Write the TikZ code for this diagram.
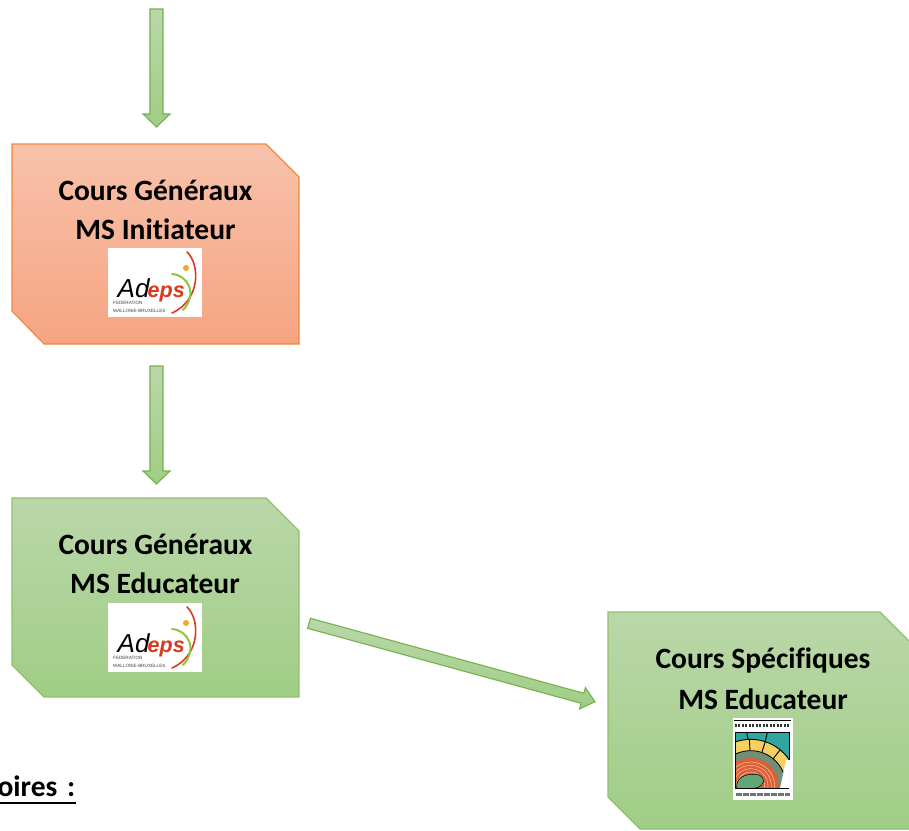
\documentclass[tikz,border=0pt]{standalone}
\usepackage{fontspec}
\setmainfont{Carlito}[Ligatures=NoCommon]
\newfontfamily\logofont{Liberation Sans}
\usetikzlibrary{calc}
\definecolor{grnTop}{HTML}{BAD7A9}
\definecolor{grnBot}{HTML}{A0CD85}
\definecolor{grnLine}{HTML}{8DC16C}
\definecolor{orgTop}{HTML}{F8C2AB}
\definecolor{orgBot}{HTML}{F6A481}
\definecolor{orgLine}{HTML}{F0873C}
\definecolor{arrLine}{HTML}{74B24C}
\definecolor{lgTeal}{HTML}{2FA6A0}
\definecolor{lgYellow}{HTML}{F5CF5F}
\definecolor{lgGrey}{HTML}{6F8F78}
\definecolor{lgOrange}{HTML}{DE5F33}
\definecolor{lgGreen}{HTML}{5FA777}
\definecolor{lgRed}{HTML}{D93A1E}
\definecolor{lgArc}{HTML}{8DC63F}
\definecolor{lgDot}{HTML}{F5A623}
\tikzset{
  greenbox/.style={top color=grnTop,bottom color=grnBot,draw=grnLine,line width=1.2pt,line join=miter},
  orangebox/.style={top color=orgTop,bottom color=orgBot,draw=orgLine,line width=1.1pt,line join=miter},
  blockarrow/.style={top color=grnTop,bottom color=grnBot,draw=arrLine,line width=1.1pt,line join=miter},
  boxtext/.style={font=\fontsize{29.5}{32}\selectfont\bfseries,text=black,inner sep=0pt,anchor=center},
  logotile/.style={fill=white,draw=none},
}
% block arrow from #1 to #2: shaft half width #3, head length #4, head half width #5
\newcommand{\blockarrowdraw}[5]{%
  \coordinate (hb) at ($(#2)!#4pt!(#1)$);
  \draw[blockarrow]
    ($(#1)!#3pt!90:(#2)$) -- ($(hb)!#3pt!90:(#2)$) -- ($(hb)!#5pt!90:(#2)$) -- (#2)
    -- ($(hb)!#5pt!-90:(#2)$) -- ($(hb)!#3pt!-90:(#2)$) -- ($(#1)!#3pt!-90:(#2)$) -- cycle;
}
\newcommand{\adepslogo}[3]{% x, y (top-left of the tile), name
  \begin{scope}[shift={(#1,#2)}]
    \node[logotile,minimum width=94pt,minimum height=69pt,inner sep=0pt,anchor=north west] (#3) at (0,0) {};
    \node[inner sep=0pt,anchor=base west] (#3ad) at (9.5,49) {\logofont\fontsize{26}{27}\selectfont\itshape\textcolor{black}{Ad}};
    \node[inner sep=0pt,anchor=base west] (#3eps) at (39.5,49) {\logofont\fontsize{21.5}{23}\selectfont\bfseries\itshape\textcolor{lgRed}{eps}};
    \draw[lgRed,line width=1.6pt,line cap=round] (79,4) .. controls (92,16) and (93,52) .. (64,65);
    \draw[lgArc,line width=2pt,line cap=round] (64,26) .. controls (80,27) and (90,46) .. (75,62);
    \fill[lgDot] (78,20) circle (3);
    \node[inner sep=0pt,anchor=base west,text=black!75] (#3f1) at (5,56.5) {\logofont\fontsize{4.6}{5}\selectfont FEDERATION};
    \node[inner sep=0pt,anchor=base west,text=black!75] (#3f2) at (5,64) {\logofont\fontsize{4.6}{5}\selectfont WALLONIE-BRUXELLES};
  \end{scope}
}
\begin{document}
\begin{tikzpicture}[x=1pt,y=-1pt]
\useasboundingbox (0,0) rectangle (909,830);
\clip (0,0) rectangle (909,830);
\fill[white] (0,0) rectangle (909,830);

% boxes
\draw[orangebox] (12,144) -- (266,144) -- (299,177) -- (299,344) -- (44,344) -- (12,311) -- cycle;
\draw[greenbox] (12,498) -- (266,498) -- (299,531) -- (299,697) -- (44,697) -- (12,665) -- cycle;
\draw[greenbox] (608,612) -- (880,612) -- (913,645) -- (913,829) -- (640,829) -- (608,797) -- cycle;

\node[boxtext] (t1a) at (155.5,190) {Cours Généraux};
\node[boxtext] (t1b) at (155.5,229) {MS Initiateur};
\node[boxtext] (t2a) at (155.5,544) {Cours Généraux};
\node[boxtext] (t2b) at (155,583) {MS Educateur};
\node[boxtext] (t3a) at (763,660) {Cours Spécifiques};
\node[boxtext] (t3b) at (763,699) {MS Educateur};

% arrows
\coordinate (a1s) at (156.5,9);   \coordinate (a1e) at (156.5,127);
\coordinate (a2s) at (156.5,366); \coordinate (a2e) at (156.5,484);
\coordinate (a3s) at (309,623.3); \coordinate (a3e) at (595,701.7);
\blockarrowdraw{a1s}{a1e}{6.5}{13}{13.5}
\blockarrowdraw{a2s}{a2e}{6.5}{13}{13.5}
\blockarrowdraw{a3s}{a3e}{5.2}{13}{11}

% logos
\adepslogo{108}{248}{logoa}
\adepslogo{108}{603}{logob}

\begin{scope}[shift={(720,710)},x=0.33333pt,y=-0.33333pt]
  \fill[white] (38,25) rectangle (218,270);
  \draw[black,line width=1.5pt] (42,31) -- (212,31);
  \draw[black!80,line width=3pt,dash pattern=on 2pt off 1.5pt] (44,47) -- (208,47);
  \begin{scope}
    \clip (45,68) rectangle (207,235);
    \fill[lgTeal] (45,68) rectangle (207,150);
    \draw[black,line width=0.9pt] (80,68) -- (85,90);
    \draw[black,line width=0.9pt] (142,68) -- (136,92);
    \fill[lgYellow] (92,228) circle (140);
    \draw[black,line width=0.9pt] (92,228) circle (140);
    \draw[black,line width=0.9pt] (88,88) -- (90,122);
    \draw[black,line width=0.9pt] (136,94) -- (126,126);
    \draw[black,line width=0.9pt] (180,120) -- (158,148);
    \fill[lgGrey] (92,228) circle (106);
    \draw[black,line width=0.8pt] (92,228) circle (106);
    \fill[lgOrange] (92,228) circle (84);
    \foreach \r in {72,62,52,42}{\draw[white!85!lgOrange,line width=0.35pt] (92,228) circle (\r);}
    \fill[white] (198,150) -- (207,150) -- (207,235) -- (180,235) -- cycle;
  \end{scope}
  \draw[black,line width=1pt] (45,68) -- (207,68) -- (207,150) (45,68) -- (45,235);
  \fill[lgGreen,draw=black,line width=0.5pt] (50,235) .. controls (48,205) and (70,192) .. (105,193) .. controls (128,193) and (138,212) .. (125,225) .. controls (118,232) and (110,235) .. (100,235) -- cycle;
  \draw[black,line width=1.5pt] (45,235) -- (207,235);
  \draw[black!55,line width=2.5pt,dash pattern=on 6pt off 1pt] (48,253) -- (210,253);
\end{scope}

% clipped heading at the lower left
\node[inner sep=0pt,anchor=base east,font=\fontsize{29.5}{32}\selectfont\bfseries] (oblig) at (75.5,796) {oires\hspace{3pt} :};
\draw[black,line width=2.4pt] ($(oblig.base west)+(-2,7)$) -- ($(oblig.base east)+(0,7)$);
\end{tikzpicture}
\end{document}
